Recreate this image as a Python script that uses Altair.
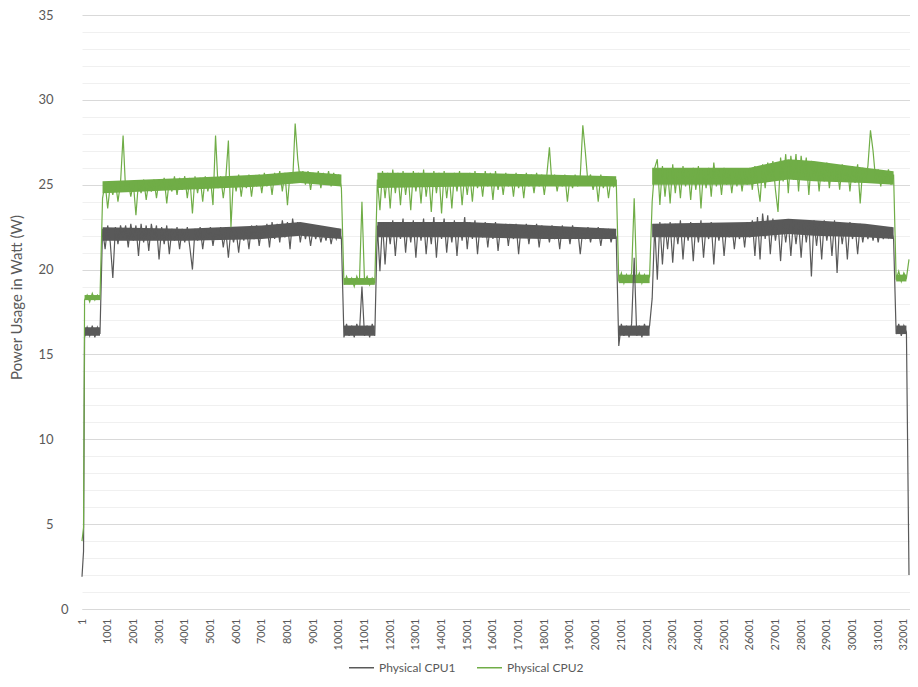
import altair as alt
import pandas as pd

ROW_NUMBERS = [1, 61] + list(range(101, 32202, 100))

X_TICKS = [1, 1001, 2001, 3001, 4001, 5001, 6001, 7001, 8001, 9001, 10001,
           11001, 12001, 13001, 14001, 15001, 16001, 17001, 18001, 19001,
           20001, 21001, 22001, 23001, 24001, 25001, 26001, 27001, 28001,
           29001, 30001, 31001, 32001]
Y_GRID = [0, 1, 2, 3, 4, 5, 6, 7, 8, 9, 10, 11, 12, 13, 14, 15, 16, 17, 18,
          19, 20, 21, 22, 23, 24, 25, 26, 27, 28, 29, 30, 31, 32, 33, 34, 35]
SERIES = ["Physical CPU1", "Physical CPU2"]
COLORS = ["#595959", "#70AD47"]

# ---------------- Physical CPU1 (W) ----------------
CPU1_START = [1.9, 3.4]
CPU1_IDLE1 = [16.0, 16.6, 16.1, 16.7, 16.0, 16.6, 16.2]
CPU1_LOAD1 = [22.4, 21.2, 22.6, 21.6, 19.5, 22.5, 21.5, 22.6, 21.9, 22.6,
              21.3, 22.7, 21.7, 22.6, 20.8, 22.7, 21.6, 22.6, 21.1, 22.7,
              21.8, 22.6, 20.6, 22.5, 21.5, 22.6, 20.9, 22.4, 21.7, 22.5,
              21.2, 22.4, 21.6, 22.5, 21.3, 20.0, 22.4, 21.7, 22.5, 21.2,
              22.4, 21.8, 22.5, 21.4, 22.4, 21.8, 22.5, 21.3, 22.3, 20.7,
              22.4, 21.6, 22.3, 21.0, 22.4, 21.7, 22.5, 21.2, 22.6, 21.8,
              22.6, 21.4, 22.5, 21.9, 22.7, 21.3, 22.8, 21.8, 22.7, 21.6,
              22.9, 21.9, 22.8, 21.2, 23.0, 22.0, 22.8, 21.6, 22.6, 21.8,
              22.5, 21.4, 22.4, 21.8, 22.4, 21.6, 22.3, 21.7, 22.4, 21.5,
              22.3, 21.8, 22.4, 21.8]
CPU1_IDLE2 = [16.0, 16.8, 16.1, 16.7, 16.0, 16.8, 16.2, 19.0, 16.1, 16.7,
              16.0, 16.8, 16.1]
CPU1_LOAD2 = [22.6, 19.9, 22.8, 20.3, 22.7, 21.5, 22.9, 20.8, 22.7, 21.8,
              23.0, 21.0, 22.8, 21.6, 22.9, 20.7, 22.8, 21.7, 23.0, 20.9,
              22.7, 21.5, 23.1, 20.7, 22.8, 21.8, 23.0, 21.0, 22.7, 21.6,
              22.9, 20.8, 22.8, 21.7, 23.1, 21.2, 22.8, 21.8, 22.9, 20.9,
              22.7, 21.9, 22.8, 21.3, 22.7, 21.8, 22.8, 21.1, 22.6, 21.9,
              22.7, 21.4, 22.6, 21.8, 22.7, 20.9, 22.6, 21.9, 22.7, 21.5,
              22.6, 21.9, 22.7, 21.3, 22.6, 21.9, 22.5, 21.6, 22.6, 21.8,
              22.5, 21.2, 22.6, 21.9, 22.5, 21.5, 22.6, 21.9, 22.4, 20.9,
              22.4, 21.8, 22.5, 21.6, 22.4, 21.9, 22.5, 21.4, 22.4, 21.9,
              22.4, 21.6, 22.3, 21.9]
CPU1_IDLE3 = [15.5, 16.8, 16.1, 16.7, 16.0, 16.8, 20.7, 16.1, 16.7, 16.0,
              16.8, 16.2, 16.7]
CPU1_LOAD3 = [18.3, 22.6, 19.4, 22.8, 20.3, 22.7, 21.2, 22.8, 20.4, 22.7,
              21.5, 22.9, 20.6, 22.6, 21.7, 22.8, 20.5, 22.7, 21.6, 22.9,
              20.7, 22.6, 21.8, 22.8, 20.3, 22.6, 21.7, 22.7, 20.8, 22.6,
              21.9, 22.7, 21.2, 22.6, 21.8, 22.7, 21.3, 22.8, 21.9, 22.9,
              20.8, 23.1, 20.6, 23.3, 21.8, 23.2, 20.9, 23.0, 21.7, 22.8,
              20.5, 22.9, 21.6, 22.8, 20.8, 22.9, 21.5, 22.8, 20.7, 22.9,
              21.6, 22.8, 19.6, 22.9, 21.4, 22.8, 20.6, 22.9, 21.7, 22.8,
              20.8, 22.9, 19.8, 22.8, 21.5, 22.7, 20.6, 22.8, 21.8, 22.6,
              20.9, 22.7, 21.6, 22.6, 21.8, 22.6, 21.7, 22.5, 21.6, 22.5,
              21.8, 22.4, 21.9, 22.4, 21.8]
CPU1_IDLE4 = [16.2, 16.8, 16.1, 16.7, 16.3]
CPU1_END = [2.0]

# ---------------- Physical CPU2 (W) ----------------
CPU2_START = [4.0, 4.8]
CPU2_IDLE1 = [18.2, 18.5, 18.1, 18.6, 18.2, 18.5, 18.3]
CPU2_LOAD1 = [24.2, 25.1, 23.6, 25.0, 24.4, 25.2, 24.0, 25.1, 27.9, 24.6,
              25.2, 24.3, 25.1, 23.2, 25.2, 24.5, 25.3, 24.1, 25.2, 24.6,
              25.3, 24.2, 25.3, 24.7, 25.4, 23.9, 25.3, 24.6, 25.5, 24.4,
              25.4, 24.7, 25.5, 24.2, 25.4, 23.3, 25.5, 24.5, 25.4, 24.0,
              25.5, 24.6, 25.4, 23.8, 27.9, 24.8, 25.5, 24.2, 25.4, 27.6,
              22.5, 25.5, 24.6, 25.6, 24.3, 25.5, 24.8, 25.6, 24.3, 25.5,
              24.9, 25.6, 24.5, 25.7, 24.9, 25.6, 24.4, 25.7, 25.0, 25.8,
              24.6, 25.7, 23.8, 25.7, 25.1, 28.6, 26.5, 25.2, 25.8, 25.0,
              25.8, 24.7, 25.7, 25.1, 25.8, 24.8, 25.7, 25.0, 25.8, 24.9,
              25.7, 25.1, 25.6, 24.8]
CPU2_IDLE2 = [19.1, 19.6, 19.2, 19.5, 19.0, 19.6, 19.2, 24.0, 19.3, 19.6,
              19.1, 19.5, 19.2]
CPU2_LOAD2 = [25.3, 23.5, 25.8, 24.2, 25.7, 23.6, 25.9, 24.5, 25.7, 23.8,
              25.8, 24.4, 25.6, 23.5, 25.8, 24.6, 25.7, 23.9, 25.9, 24.3,
              25.6, 23.4, 25.8, 24.5, 25.7, 23.3, 25.8, 24.2, 25.6, 23.6,
              25.7, 24.6, 25.8, 23.8, 25.6, 24.4, 25.7, 24.0, 25.8, 24.8,
              25.6, 24.3, 25.8, 24.9, 25.7, 24.1, 25.8, 24.7, 25.6, 24.4,
              25.7, 24.9, 25.6, 24.3, 25.7, 24.8, 25.6, 24.2, 25.7, 24.9,
              25.6, 24.5, 25.7, 24.9, 25.6, 24.4, 25.6, 27.2, 25.0, 25.6,
              24.6, 25.5, 24.9, 25.6, 24.0, 25.5, 24.8, 25.6, 24.9, 25.5,
              28.5, 26.9, 25.1, 25.6, 24.7, 25.5, 24.0, 25.6, 24.8, 25.5,
              24.2, 25.4, 24.9, 25.3]
CPU2_IDLE3 = [19.3, 19.8, 19.2, 19.7, 19.3, 19.8, 24.2, 19.4, 19.8, 19.2,
              19.7, 19.3, 19.6]
CPU2_LOAD3 = [24.0, 26.0, 26.5, 23.8, 26.1, 24.3, 25.9, 23.9, 26.2, 24.5,
              25.9, 24.2, 26.1, 24.9, 25.9, 24.1, 26.0, 24.7, 26.1, 23.6,
              25.9, 24.8, 26.0, 24.3, 26.3, 24.9, 25.9, 24.4, 26.0, 25.0,
              25.9, 24.5, 25.8, 24.9, 25.9, 24.6, 25.8, 25.0, 26.0, 24.7,
              26.1, 25.1, 24.0, 26.2, 24.8, 26.3, 25.2, 26.4, 24.7, 23.4,
              26.6, 25.2, 26.8, 24.5, 26.7, 25.3, 26.8, 24.6, 26.7, 25.4,
              26.6, 24.4, 26.4, 25.3, 26.3, 24.6, 26.2, 25.2, 26.3, 24.8,
              26.2, 25.3, 26.1, 24.7, 26.2, 25.2, 26.1, 24.6, 26.1, 25.1,
              26.2, 23.9, 26.0, 25.2, 26.1, 28.2, 27.0, 25.3, 25.9, 24.9,
              25.8, 25.2, 25.9, 25.0, 25.6]
CPU2_IDLE4 = [19.4, 19.9, 19.3, 19.8, 19.5]
CPU2_END = [20.6]

# Dense part of each noisy trace (lower / upper edge of the solid band), per phase
BAND_ROWS = {
    "idle1": [101, 701],
    "load1": [801, 4001, 7001, 8501, 10101],
    "idle2": [10201, 11401],
    "load2": [11501, 15001, 18001, 20801],
    "idle3": [20901, 22101],
    "load3": [22201, 26001, 27501, 28501, 30501, 31601],
    "idle4": [31701, 32101],
}
CPU1_BAND_LO = {"idle1": [16.1, 16.1], "load1": [21.7, 21.7, 21.8, 22.0, 21.8],
                "idle2": [16.1, 16.1], "load2": [21.9, 21.9, 21.8, 21.8],
                "idle3": [16.1, 16.1],
                "load3": [21.9, 21.9, 22.1, 22.0, 21.9, 21.8],
                "idle4": [16.2, 16.2]}
CPU1_BAND_HI = {"idle1": [16.6, 16.6], "load1": [22.5, 22.4, 22.6, 22.8, 22.4],
                "idle2": [16.7, 16.7], "load2": [22.8, 22.8, 22.6, 22.4],
                "idle3": [16.7, 16.7],
                "load3": [22.7, 22.8, 23.0, 22.9, 22.7, 22.5],
                "idle4": [16.7, 16.7]}
CPU2_BAND_LO = {"idle1": [18.2, 18.2], "load1": [24.5, 24.7, 24.9, 25.1, 24.9],
                "idle2": [19.1, 19.1], "load2": [24.8, 24.9, 24.9, 24.9],
                "idle3": [19.2, 19.2],
                "load3": [25.0, 25.0, 25.3, 25.2, 25.1, 25.0],
                "idle4": [19.3, 19.3]}
CPU2_BAND_HI = {"idle1": [18.5, 18.5], "load1": [25.2, 25.4, 25.6, 25.8, 25.6],
                "idle2": [19.5, 19.5], "load2": [25.7, 25.7, 25.6, 25.5],
                "idle3": [19.7, 19.7],
                "load3": [26.0, 26.0, 26.5, 26.4, 26.0, 25.8],
                "idle4": [19.7, 19.7]}

cpu1 = (CPU1_START + CPU1_IDLE1 + CPU1_LOAD1 + CPU1_IDLE2 + CPU1_LOAD2 +
        CPU1_IDLE3 + CPU1_LOAD3 + CPU1_IDLE4 + CPU1_END)
cpu2 = (CPU2_START + CPU2_IDLE1 + CPU2_LOAD1 + CPU2_IDLE2 + CPU2_LOAD2 +
        CPU2_IDLE3 + CPU2_LOAD3 + CPU2_IDLE4 + CPU2_END)

lines = pd.concat([
    pd.DataFrame({"row": ROW_NUMBERS, "watt": cpu1, "series": SERIES[0]}),
    pd.DataFrame({"row": ROW_NUMBERS, "watt": cpu2, "series": SERIES[1]}),
])

band_frames = []
for name, lo, hi in [(SERIES[0], CPU1_BAND_LO, CPU1_BAND_HI),
                     (SERIES[1], CPU2_BAND_LO, CPU2_BAND_HI)]:
    for seg, rows in BAND_ROWS.items():
        band_frames.append(pd.DataFrame({
            "row": rows, "lo": lo[seg], "hi": hi[seg],
            "series": name, "seg": name + seg,
        }))
bands = pd.concat(band_frames)

FONT = "Lato"
TXT = "#595959"

x_enc = alt.X(
    "row:Q",
    scale=alt.Scale(domain=[1, 32240], nice=False, zero=False),
    axis=alt.Axis(
        values=X_TICKS, format="d", labelAngle=270, grid=False,
        ticks=False, domainColor="#d9d9d9", labelFont=FONT,
        labelFontSize=11, labelColor=TXT, labelPadding=9,
        labelOverlap=False, labelFlush=False, title=None,
    ),
)
y_scale = alt.Scale(domain=[0, 35], nice=False)
y_axis = alt.Axis(
    values=Y_GRID, ticks=False, domain=False, labelOverlap=False,
    labelExpr="datum.value % 5 === 0 ? datum.label : ''",
    gridColor={"condition": {"test": "datum.value % 5 === 0",
                             "value": "#d9d9d9"},
               "value": "#f0f0f0"},
    labelPadding={"condition": {"test": "datum.value === 0", "value": 14},
                  "value": 29},
    labelFont=FONT, labelFontSize=13, labelColor=TXT,
    title="Power Usage in Watt (W)", titleFont=FONT,
    titleFontSize=15, titleFontWeight="normal", titleColor=TXT,
    titleAngle=270, titleX=-66, titleY=282, titleAlign="center",
    titleBaseline="middle",
)
color_scale = alt.Scale(domain=SERIES, range=COLORS)

band_layer = alt.Chart(bands).mark_area(opacity=1, interpolate="linear").encode(
    x=x_enc,
    y=alt.Y("lo:Q", scale=y_scale, axis=y_axis),
    y2="hi:Q",
    color=alt.Color("series:N", scale=color_scale, legend=None),
    detail="seg:N",
)

line_layer = alt.Chart(lines).mark_line(strokeWidth=1.2).encode(
    x=x_enc,
    y=alt.Y("watt:Q", scale=y_scale, axis=y_axis),
    color=alt.Color(
        "series:N",
        scale=color_scale,
        legend=alt.Legend(
            orient="none", legendX=266, legendY=639, direction="horizontal",
            title=None, symbolType="stroke", symbolSize=625,
            symbolStrokeWidth=1.5, labelFont=FONT, labelFontSize=12,
            labelColor=TXT, columnPadding=18, labelOffset=4,
        ),
    ),
)

chart = alt.layer(band_layer, line_layer).resolve_scale(
    color="independent"
).properties(
    width=828,
    height=594,
    autosize=alt.AutoSizeParams(type="none"),
    padding={"left": 74, "top": 7, "right": 0, "bottom": 67},
    background="white",
).configure_view(stroke=None)

chart.save("out.html", embed_options={"renderer": "svg", "actions": False})
